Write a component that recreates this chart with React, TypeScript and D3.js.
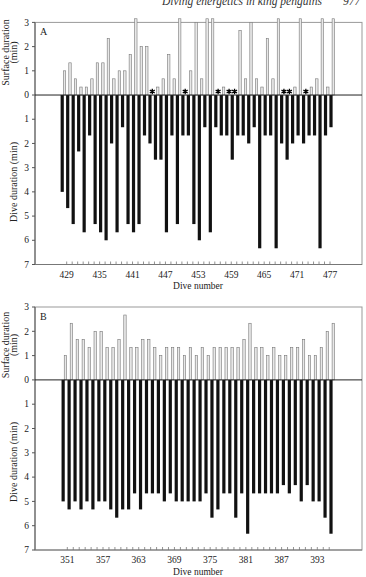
import React from 'react';
import * as d3 from 'd3';

// Panel A: dives 428-477
const divesA = d3.range(428, 478);
const diveDurA = [
  4.0, 4.67, 5.33, 2.33, 5.67, 1.67, 5.33, 5.67, 6.0, 2.0,
  5.67, 1.33, 5.33, 5.67, 5.33, 1.67, 2.0, 2.67, 2.67, 5.67,
  1.67, 5.33, 1.67, 1.67, 5.33, 6.0, 1.33, 5.67, 1.33, 1.67,
  1.67, 2.67, 1.67, 1.67, 2.0, 1.33, 6.33, 1.67, 1.67, 6.33,
  2.0, 2.67, 2.0, 1.67, 2.0, 1.67, 1.67, 6.33, 1.67, 1.33,
];
// null = no surface interval recorded (asterisk); 3.15 = off scale
const surfaceA = [
  1.0, 1.33, 0.67, 0.33, 0.33, 0.67, 1.33, 1.33, 2.33, 0.67,
  1.0, 1.0, 1.67, 3.15, 2.0, 2.0, null, 0.33, 0.67, 1.67,
  0.67, 3.15, null, 1.0, 3.0, 0.67, 3.15, 3.15, null, 0.33,
  null, null, 2.67, 0.67, 3.0, 0.67, 0.33, 2.33, 0.67, 3.15,
  null, null, 0.33, 3.15, null, 0.33, 0.67, 3.15, 0.33, 3.15,
];
const labelsA = [429, 435, 441, 447, 453, 459, 465, 471, 477];

// Panel B: dives 350-395
const divesB = d3.range(350, 396);
const diveDurB = [
  5.0, 5.33, 5.0, 5.33, 5.0, 5.33, 5.0, 5.0, 5.33, 5.67,
  5.33, 5.33, 4.67, 5.33, 4.67, 4.67, 4.67, 5.0, 4.67, 5.0,
  5.0, 5.0, 5.0, 5.0, 4.67, 5.67, 5.33, 4.67, 4.67, 5.67,
  4.67, 6.33, 4.67, 4.67, 4.67, 4.67, 4.67, 4.33, 4.67, 4.33,
  5.0, 4.33, 5.0, 5.0, 5.67, 6.33,
];
const surfaceB = [
  1.0, 2.33, 1.67, 1.67, 1.33, 2.0, 2.0, 1.33, 1.33, 1.67,
  2.67, 1.33, 1.33, 1.67, 1.67, 1.33, 1.0, 1.33, 1.33, 1.33,
  1.0, 1.33, 1.0, 1.33, 1.0, 1.33, 1.33, 1.33, 1.33, 1.33,
  1.67, 2.33, 1.33, 1.33, 1.0, 1.33, 1.0, 1.0, 1.33, 1.33,
  1.67, 1.0, 1.0, 1.33, 2.0, 2.33,
];
const labelsB = [351, 357, 363, 369, 375, 381, 387, 393];

const yTicks = d3.range(-7, 4);

const SERIF = '"Liberation Serif", "DejaVu Serif", serif';
const LEFT = 35;
const RIGHT = 362;

const star = d3.symbol().type(d3.symbolAsterisk).size(22)();

function Panel({ letter, dives, dive, surface, labels, minor, xDomain, xRange, yRange, shift, surfTitleY, diveTitleY, numberY }) {
  const x = d3.scaleLinear().domain(xDomain).range(xRange);
  const y = d3.scaleLinear().domain([-7, 3]).range(yRange);
  const y0 = y(0);
  const yTop = y(3);
  const yBot = y(-7);
  return (
    <g fontFamily={SERIF} fill="#222">
      {/* frame */}
      <rect x={LEFT} y={yTop} width={RIGHT - LEFT} height={yBot - yTop} fill="none" stroke="#999" strokeWidth={1} />
      <line x1={LEFT} x2={LEFT} y1={yTop} y2={yBot} stroke="#555" />
      <line x1={LEFT} x2={RIGHT} y1={yBot} y2={yBot} stroke="#777" />

      {/* surface bars */}
      {dives.map((d, i) => surface[i] == null ? (
        <path key={'s' + d} d={star} transform={`translate(${x(d) + shift + 2.3},${y0 - 3.5})`} stroke="#000" strokeWidth={1.3} fill="none" />
      ) : (
        <rect key={'s' + d} x={x(d) + shift + 2.3 - 1.2} y={y(surface[i])} width={2.4} height={y0 - y(surface[i])}
          fill="#e8e8e8" stroke="#777" strokeWidth={0.6} />
      ))}

      {/* dive bars */}
      {dives.map((d, i) => (
        <rect key={'d' + d} x={x(d) + shift - 1.6} y={y0} width={3.2} height={y(-dive[i]) - y0} fill="#111" />
      ))}

      <line x1={LEFT} x2={RIGHT} y1={y0} y2={y0} stroke="#222" strokeWidth={1} />

      {/* y axis */}
      {yTicks.map(t => (
        <g key={t}>
          <line x1={LEFT - 3} x2={LEFT} y1={y(t)} y2={y(t)} stroke="#555" />
          <text x={LEFT - 6} y={y(t) + 3.2} fontSize={9.5} textAnchor="end">{Math.abs(t)}</text>
        </g>
      ))}

      {/* x axis */}
      {minor.map(t => (
        <line key={t} x1={x(t)} x2={x(t)} y1={yBot} y2={yBot - 3} stroke="#777" strokeWidth={0.8} />
      ))}
      {labels.map(t => (
        <text key={t} x={x(t)} y={yBot + 13} fontSize={9.5} textAnchor="middle">{t}</text>
      ))}
      <text x={198} y={numberY} fontSize={9.5} textAnchor="middle">Dive number</text>

      <text x={LEFT + 5} y={yTop + 13} fontSize={10}>{letter}</text>

      <text transform={`translate(8.5,${surfTitleY}) rotate(-90)`} fontSize={10} textAnchor="middle">Surface duration</text>
      <text transform={`translate(17,${surfTitleY}) rotate(-90)`} fontSize={10} textAnchor="middle">(min)</text>
      <text transform={`translate(17,${diveTitleY}) rotate(-90)`} fontSize={10} textAnchor="middle">Dive duration (min)</text>
    </g>
  );
}

export default function App() {
  return (
    <svg width={366} height={577} style={{ position: 'absolute', left: 0, top: 0, background: '#fff' }}>
      <text x={162} y={5} fontFamily={SERIF} fontStyle="italic" fontSize={11.5} fill="#333">Diving energetics in king penguins</text>
      <text x={343} y={5} fontFamily={SERIF} fontStyle="italic" fontSize={11.5} fill="#333">977</text>
      <Panel letter="A" dives={divesA} dive={diveDurA} surface={surfaceA} labels={labelsA}
        minor={d3.range(429, 478)} xDomain={[429, 477]} xRange={[66.7, 330]} yRange={[264.5, 22.4]}
        shift={1} surfTitleY={52.5} diveTitleY={182} numberY={289} />
      <Panel letter="B" dives={divesB} dive={diveDurB} surface={surfaceB} labels={labelsB}
        minor={d3.range(351, 396)} xDomain={[351, 393]} xRange={[67.3, 317.3]} yRange={[550, 307]}
        shift={1.8} surfTitleY={345} diveTitleY={462} numberY={575} />
    </svg>
  );
}
